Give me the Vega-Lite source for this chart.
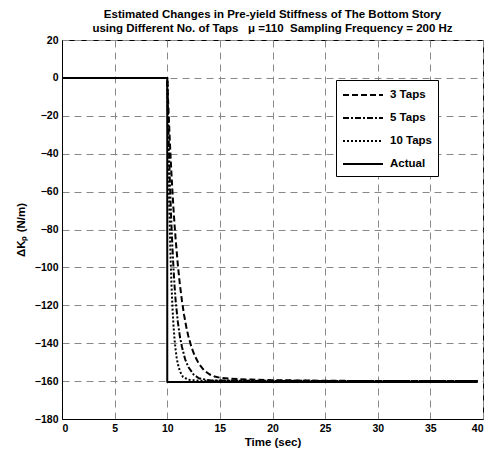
{
  "$schema": "https://vega.github.io/schema/vega-lite/v6.json",
  "width": 421,
  "height": 379,
  "autosize": "none",
  "padding": {"left": 62, "top": 40, "right": 8, "bottom": 33},
  "background": "white",
  "title": {
    "text": ["Estimated Changes in Pre-yield Stiffness of The Bottom Story", "using Different No. of Taps \u00a0 μ =110 \u00a0Sampling Frequency = 200 Hz"],
    "font": "Liberation Sans", "fontSize": 11.5, "fontWeight": "bold", "color": "#000",
    "anchor": "middle", "offset": 1, "lineHeight": 13.5
  },
  "config": {
    "view": {"stroke": "#000", "strokeWidth": 1},
    "axis": {
      "labelFont": "Liberation Sans", "labelFontSize": 10.5, "labelFontWeight": "bold", "labelColor": "#000",
      "titleFont": "Liberation Sans", "titleFontSize": 11.5, "titleFontWeight": "bold", "titleColor": "#000",
      "domainColor": "#000", "ticks": false, "labelPadding": 4,
      "gridColor": "#888", "gridDash": [7, 5], "gridOpacity": 1, "gridWidth": 1
    }
  },
  "data": {"values": [
    {"t": 0, "v": 0, "s": "Actual"}, {"t": 10, "v": 0, "s": "Actual"}, {"t": 10, "v": -160.5, "s": "Actual"}, {"t": 39.5, "v": -160.5, "s": "Actual"},

    {"t": 0, "v": 0, "s": "3 Taps"}, {"t": 10, "v": 0, "s": "3 Taps"}, {"t": 10.1, "v": -14.5, "s": "3 Taps"}, {"t": 10.2, "v": -27.8, "s": "3 Taps"},
    {"t": 10.3, "v": -39.8, "s": "3 Taps"}, {"t": 10.4, "v": -50.7, "s": "3 Taps"}, {"t": 10.5, "v": -60.6, "s": "3 Taps"}, {"t": 10.6, "v": -69.6, "s": "3 Taps"},
    {"t": 10.7, "v": -77.9, "s": "3 Taps"}, {"t": 10.8, "v": -85.3, "s": "3 Taps"}, {"t": 11.0, "v": -98.3, "s": "3 Taps"}, {"t": 11.2, "v": -109.0, "s": "3 Taps"},
    {"t": 11.4, "v": -117.8, "s": "3 Taps"}, {"t": 11.6, "v": -125.1, "s": "3 Taps"}, {"t": 11.8, "v": -131.2, "s": "3 Taps"}, {"t": 12.0, "v": -136.2, "s": "3 Taps"},
    {"t": 12.3, "v": -142.1, "s": "3 Taps"}, {"t": 12.6, "v": -146.5, "s": "3 Taps"}, {"t": 13.0, "v": -150.8, "s": "3 Taps"}, {"t": 13.5, "v": -154.3, "s": "3 Taps"},
    {"t": 14.0, "v": -156.4, "s": "3 Taps"}, {"t": 14.5, "v": -157.6, "s": "3 Taps"}, {"t": 15.0, "v": -158.2, "s": "3 Taps"}, {"t": 16.0, "v": -158.8, "s": "3 Taps"},
    {"t": 18.0, "v": -159.2, "s": "3 Taps"}, {"t": 20.0, "v": -159.5, "s": "3 Taps"}, {"t": 25.0, "v": -159.8, "s": "3 Taps"}, {"t": 30.0, "v": -160.0, "s": "3 Taps"},
    {"t": 39.5, "v": -160.0, "s": "3 Taps"},

    {"t": 0, "v": 0, "s": "5 Taps"}, {"t": 10, "v": 0, "s": "5 Taps"}, {"t": 10.05, "v": -15.0, "s": "5 Taps"}, {"t": 10.1, "v": -24.6, "s": "5 Taps"},
    {"t": 10.2, "v": -45.4, "s": "5 Taps"}, {"t": 10.3, "v": -63.0, "s": "5 Taps"}, {"t": 10.4, "v": -77.9, "s": "5 Taps"}, {"t": 10.5, "v": -90.5, "s": "5 Taps"},
    {"t": 10.6, "v": -101.1, "s": "5 Taps"}, {"t": 10.7, "v": -110.2, "s": "5 Taps"}, {"t": 10.8, "v": -117.8, "s": "5 Taps"}, {"t": 11.0, "v": -128.5, "s": "5 Taps"},
    {"t": 11.2, "v": -136.5, "s": "5 Taps"}, {"t": 11.4, "v": -142.0, "s": "5 Taps"}, {"t": 11.7, "v": -148.5, "s": "5 Taps"}, {"t": 12.0, "v": -152.5, "s": "5 Taps"},
    {"t": 12.5, "v": -156.5, "s": "5 Taps"}, {"t": 13.0, "v": -158.5, "s": "5 Taps"}, {"t": 14.0, "v": -159.6, "s": "5 Taps"}, {"t": 20.0, "v": -160.0, "s": "5 Taps"},
    {"t": 39.5, "v": -160.0, "s": "5 Taps"},

    {"t": 0, "v": 0, "s": "10 Taps"}, {"t": 10, "v": 0, "s": "10 Taps"}, {"t": 10.05, "v": -21.3, "s": "10 Taps"}, {"t": 10.1, "v": -39.8, "s": "10 Taps"},
    {"t": 10.15, "v": -55.8, "s": "10 Taps"}, {"t": 10.2, "v": -69.6, "s": "10 Taps"}, {"t": 10.3, "v": -92.1, "s": "10 Taps"}, {"t": 10.4, "v": -109.0, "s": "10 Taps"},
    {"t": 10.5, "v": -121.7, "s": "10 Taps"}, {"t": 10.6, "v": -131.2, "s": "10 Taps"}, {"t": 10.7, "v": -138.4, "s": "10 Taps"}, {"t": 10.8, "v": -143.7, "s": "10 Taps"},
    {"t": 10.9, "v": -147.8, "s": "10 Taps"}, {"t": 11.0, "v": -150.8, "s": "10 Taps"}, {"t": 11.2, "v": -154.8, "s": "10 Taps"}, {"t": 11.5, "v": -157.8, "s": "10 Taps"},
    {"t": 12.0, "v": -159.3, "s": "10 Taps"}, {"t": 13.0, "v": -159.8, "s": "10 Taps"}, {"t": 39.5, "v": -160.0, "s": "10 Taps"}
  ]},
  "mark": {"type": "line", "color": "#000", "strokeCap": "butt", "strokeJoin": "round"},
  "encoding": {
    "x": {"field": "t", "type": "quantitative", "title": "Time (sec)",
      "scale": {"domain": [0, 40], "nice": false}, "axis": {"values": [0, 5, 10, 15, 20, 25, 30, 35, 40], "titlePadding": 3}},
    "y": {"field": "v", "type": "quantitative", "title": "ΔKₚ (N/m)",
      "scale": {"domain": [-180, 20], "nice": false}, "axis": {"values": [20, 0, -20, -40, -60, -80, -100, -120, -140, -160, -180], "titlePadding": 8}},
    "detail": {"field": "s"},
    "strokeDash": {"field": "s", "type": "nominal",
      "scale": {"domain": ["3 Taps", "5 Taps", "10 Taps", "Actual"], "range": [[6, 3], [6, 2, 2, 2], [2, 2], [1, 0]]},
      "legend": {"title": null, "orient": "none", "legendX": 274, "legendY": 40,
        "symbolType": "M-1,0H4", "symbolSize": 256, "symbolStrokeWidth": 2, "symbolStrokeColor": "#000", "symbolFillColor": "transparent",
        "labelFont": "Liberation Sans", "labelFontSize": 11.5, "labelFontWeight": "bold", "labelColor": "#000",
        "labelOffset": 30, "padding": 6, "strokeColor": "#000", "fillColor": "#fff", "rowPadding": 8}},
    "strokeWidth": {"field": "s", "type": "nominal",
      "scale": {"domain": ["3 Taps", "5 Taps", "10 Taps", "Actual"], "range": [2, 2, 2, 2.7]}, "legend": null}
  }
}
